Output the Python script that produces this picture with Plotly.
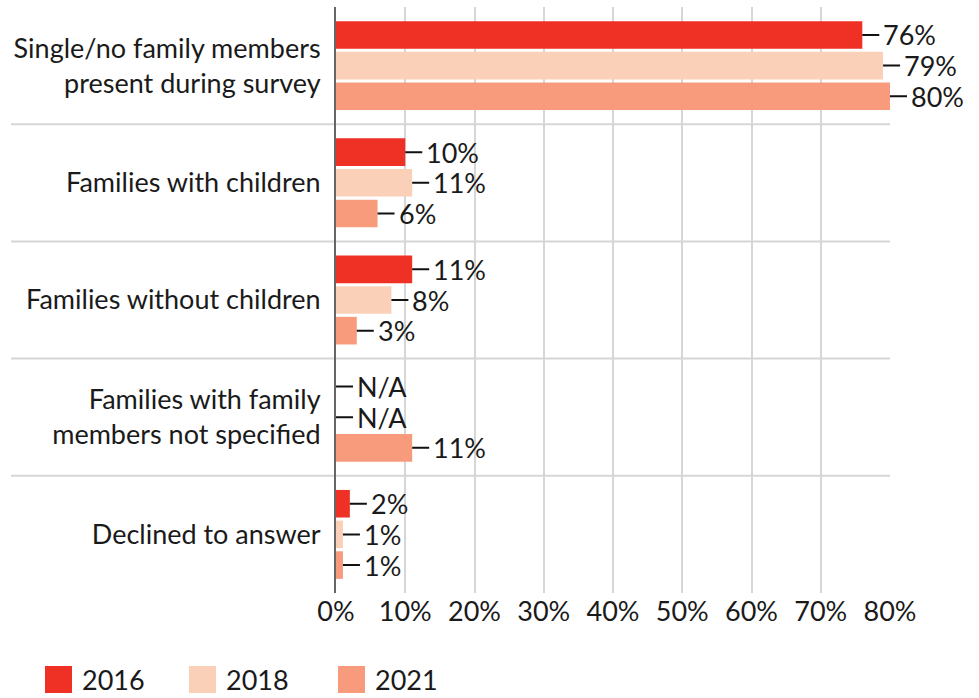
import plotly.graph_objects as go

categories = [
    "Single/no family members<br>present during survey",
    "Families with children",
    "Families without children",
    "Families with family<br>members not specified",
    "Declined to answer",
]
years = ["2016", "2018", "2021"]
values_2016 = [76, 10, 11, None, 2]
values_2018 = [79, 11, 8, None, 1]
values_2021 = [80, 6, 3, 11, 1]
x_ticks = [0, 10, 20, 30, 40, 50, 60, 70, 80]
x_ticklabels = [f"{v}%" for v in x_ticks]

series = [values_2016, values_2018, values_2021]
colors = ["#EE3124", "#FBD0B8", "#F79B7C"]

W, H = 979, 698
ML, MR, MT, MB = 336, 89, 7, 105
PW = W - ML - MR
PH = H - MT - MB
BARGAP = 0.215
BARGROUPGAP = 0.1
FONT = "Lato"
FS = 27
TXT = "#1a1a1a"

fig = go.Figure()
for name, vals, col in zip(years, series, colors):
    fig.add_trace(go.Bar(
        y=categories, x=[v if v is not None else 0 for v in vals],
        orientation="h", name=name, marker_color=col,
        marker_line_width=0, showlegend=False, hoverinfo="skip",
    ))

# value labels with leader lines
band = PH / len(categories)
slot = band * (1 - BARGAP) / len(years)
annotations = []
for i, vals in enumerate(series):
    yshift = (1 - i) * slot
    for cat, v in zip(categories, vals):
        annotations.append(dict(
            x=v if v is not None else 0, y=cat, xref="x", yref="y",
            text=f"{v}%" if v is not None else "N/A",
            showarrow=True, ax=17, ay=0, axref="pixel", ayref="pixel",
            arrowhead=0, arrowwidth=2, arrowcolor="#111111", standoff=0,
            xanchor="left", yanchor="middle", borderpad=3, yshift=yshift,
            font=dict(family=FONT, size=FS, color=TXT),
        ))

def px_x(px):
    return (px - ML) / PW

def px_y(py):
    return (H - MB - py) / PH

shapes = []
# category separators
for k in range(1, len(categories)):
    shapes.append(dict(
        type="line", xref="paper", yref="y", x0=px_x(11), x1=1,
        y0=k - 0.5, y1=k - 0.5, line=dict(color="#d6d6d6", width=2), layer="below",
    ))

# custom legend
legend_x = [45, 189, 338]
for name, col, lx in zip(years, colors, legend_x):
    shapes.append(dict(
        type="rect", xref="paper", yref="paper",
        x0=px_x(lx), x1=px_x(lx + 27), y0=px_y(693), y1=px_y(666),
        fillcolor=col, line=dict(width=0),
    ))
    annotations.append(dict(
        xref="paper", yref="paper", x=px_x(lx + 35), y=px_y(680),
        text=name, showarrow=False, xanchor="left", yanchor="middle",
        font=dict(family=FONT, size=FS, color=TXT),
    ))

fig.update_layout(
    width=W, height=H,
    margin=dict(l=ML, r=MR, t=MT, b=MB, pad=0),
    barmode="group", bargap=BARGAP, bargroupgap=BARGROUPGAP,
    plot_bgcolor="white", paper_bgcolor="white",
    font=dict(family=FONT, size=FS, color=TXT),
    annotations=annotations, shapes=shapes,
    xaxis=dict(
        range=[0, 80], tickvals=x_ticks, ticktext=x_ticklabels,
        showgrid=True, gridcolor="#d6d6d6", gridwidth=2,
        zeroline=False, showline=False, ticks="",
        tickfont=dict(family=FONT, size=FS, color=TXT),
    ),
    yaxis=dict(
        categoryorder="array", categoryarray=categories, autorange="reversed",
        showgrid=False, zeroline=False, showline=True, linecolor="#666666",
        linewidth=2, ticks="", ticklabelstandoff=8,
        tickfont=dict(family=FONT, size=FS, color=TXT),
    ),
)

fig.write_html(
    "out.html",
    config={"displayModeBar": False},
    post_script="document.body.style.margin='0';document.body.style.overflow='hidden';",
)
